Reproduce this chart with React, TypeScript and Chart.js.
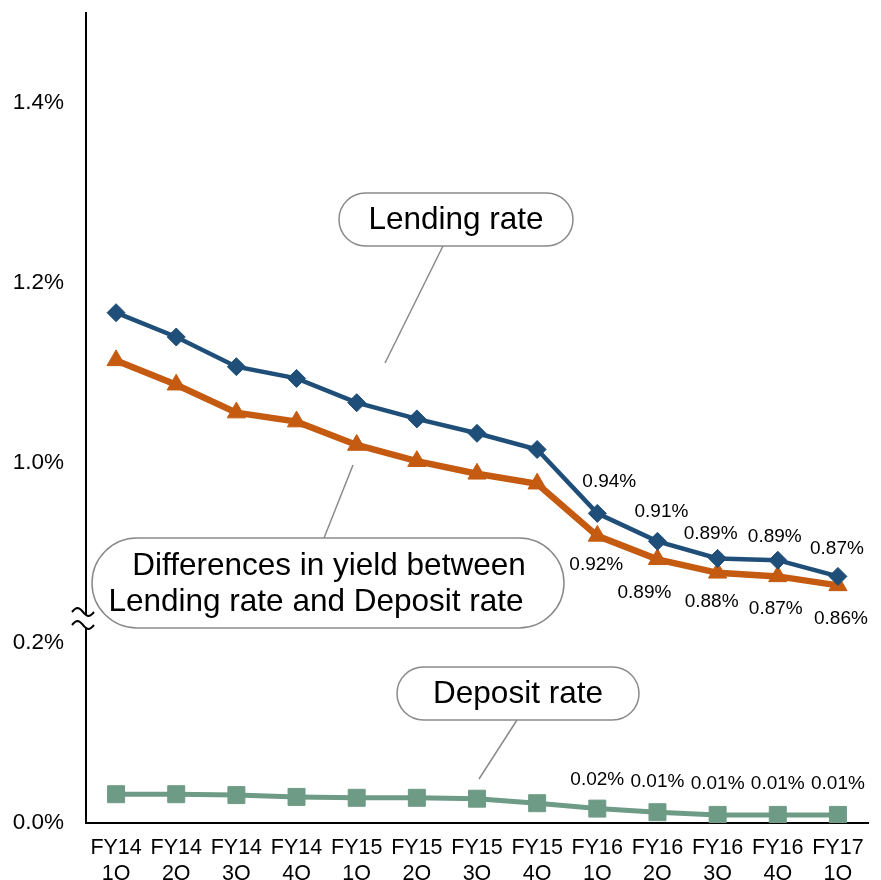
import React, { useEffect, useRef } from 'react';
import { Chart, registerables } from 'chart.js';

Chart.register(...registerables);

const FONT = '"Liberation Sans", Arial, Helvetica, sans-serif';

// Fiscal quarters on the category axis ("year quarter", split into two lines)
const periods = [
  'FY14 1Q', 'FY14 2Q', 'FY14 3Q', 'FY14 4Q',
  'FY15 1Q', 'FY15 2Q', 'FY15 3Q', 'FY15 4Q',
  'FY16 1Q', 'FY16 2Q', 'FY16 3Q', 'FY16 4Q',
  'FY17 1Q',
];

// Rates in percent
const lendingRate = [1.167, 1.14, 1.107, 1.094, 1.067, 1.049, 1.033, 1.015, 0.944, 0.913, 0.894, 0.892, 0.874];
const yieldDifference = [1.114, 1.087, 1.056, 1.046, 1.02, 1.002, 0.988, 0.977, 0.919, 0.893, 0.878, 0.874, 0.864];
const depositRate = [0.032, 0.032, 0.031, 0.029, 0.028, 0.028, 0.027, 0.022, 0.016, 0.012, 0.009, 0.009, 0.009];

// Tick values (percent) shown on the broken value axis
const yTicks = [0.0, 0.2, 1.0, 1.2, 1.4];

// Broken axis: values above BREAK_AT are drawn BREAK_GAP lower
const BREAK_AT = 0.5;
const BREAK_GAP = 0.6;
const AXIS_MAX = 0.9;
const LABEL_FROM = 8; // value labels from FY16 1Q onward

const toAxis = (v: number) => (v > BREAK_AT ? v - BREAK_GAP : v);
const fromAxis = (v: number) => (v > 0.2 + 1e-6 ? v + BREAK_GAP : v);

// Value label nudges [dx, dy] relative to each labelled point
const lendingLabelNudge = [[12, -32], [4, -30], [-7, -25], [-3, -23], [-1, -28]];
const differenceLabelNudge = [[-1, 29], [-13, 33], [-6, 29], [-2, 32], [3, 33]];
const depositLabelNudge = [[0, -29], [0, -30], [0, -31], [0, -31], [0, -31]];

type Callout = {
  lines: string[];
  lineX: number[];
  box: [number, number, number, number]; // left, top, right, bottom
  leader: [number, number, number, number];
};

const callouts: Callout[] = [
  { lines: ['Lending rate'], lineX: [456], box: [339, 193, 573, 246], leader: [443, 246, 385, 363] },
  {
    lines: ['Differences in yield between', 'Lending rate and Deposit rate'],
    lineX: [329, 316],
    box: [92, 538, 564, 628],
    leader: [324, 538, 353, 465],
  },
  { lines: ['Deposit rate'], lineX: [518], box: [397, 667, 639, 720], leader: [517, 720, 479, 779] },
];

const overlayPlugin = {
  id: 'overlay',
  afterDraw(chart: any) {
    const { ctx, chartArea } = chart;
    const yScale = chart.scales.y;
    ctx.save();

    // value labels
    ctx.font = `19px ${FONT}`;
    ctx.fillStyle = '#000';
    ctx.textAlign = 'center';
    ctx.textBaseline = 'middle';
    chart.data.datasets.forEach((ds: any, di: number) => {
      const meta = chart.getDatasetMeta(di);
      const src: number[] = ds.sourceValues;
      const nudge: number[][] = ds.labelNudge;
      for (let i = LABEL_FROM; i < src.length; i++) {
        const pt = meta.data[i];
        const [dx, dy] = nudge[i - LABEL_FROM];
        ctx.fillText(src[i].toFixed(2) + '%', pt.x + dx, pt.y + dy);
      }
    });

    // callouts
    callouts.forEach((c) => {
      const [l, t, r, b] = c.box;
      const h = b - t;
      ctx.strokeStyle = '#8a8a8a';
      ctx.lineWidth = 1.5;
      ctx.beginPath();
      ctx.moveTo(c.leader[0], c.leader[1]);
      ctx.lineTo(c.leader[2], c.leader[3]);
      ctx.stroke();
      ctx.beginPath();
      ctx.roundRect(l, t, r - l, h, h / 2);
      ctx.fillStyle = '#fff';
      ctx.fill();
      ctx.stroke();
      ctx.fillStyle = '#000';
      ctx.font = `31.5px ${FONT}`;
      ctx.textAlign = 'center';
      ctx.textBaseline = 'middle';
      const lh = 36;
      const y0 = (t + b) / 2 - ((c.lines.length - 1) * lh) / 2;
      c.lines.forEach((line, k) => ctx.fillText(line, c.lineX[k], y0 + k * lh + 1));
    });

    // axis break marker
    const yBreak = yScale.getPixelForValue(0.2);
    const x0 = chartArea.left - 14;
    const w = 22;
    const waveY = [yBreak - 31, yBreak - 18];
    const wave = (yc: number, t: number) => yc - 4 * Math.sin(2 * Math.PI * t);
    ctx.beginPath();
    for (let s = 0; s <= 20; s++) {
      const t = s / 20;
      const x = x0 + w * t;
      if (s === 0) ctx.moveTo(x, wave(waveY[0], t));
      else ctx.lineTo(x, wave(waveY[0], t));
    }
    for (let s = 20; s >= 0; s--) {
      const t = s / 20;
      ctx.lineTo(x0 + w * t, wave(waveY[1], t));
    }
    ctx.closePath();
    ctx.fillStyle = '#fff';
    ctx.fill();
    ctx.strokeStyle = '#000';
    ctx.lineWidth = 2;
    waveY.forEach((yc) => {
      ctx.beginPath();
      for (let s = 0; s <= 20; s++) {
        const t = s / 20;
        const x = x0 + w * t;
        if (s === 0) ctx.moveTo(x, wave(yc, t));
        else ctx.lineTo(x, wave(yc, t));
      }
      ctx.stroke();
    });

    ctx.restore();
  },
};

export default function App() {
  const canvasRef = useRef<HTMLCanvasElement | null>(null);

  useEffect(() => {
    const canvas = canvasRef.current;
    if (!canvas) return;
    const chart = new Chart(canvas, {
      type: 'line',
      data: {
        labels: periods.map((p) => p.split(' ')),
        datasets: [
          {
            label: 'Lending rate',
            data: lendingRate.map(toAxis),
            sourceValues: lendingRate,
            labelNudge: lendingLabelNudge,
            borderColor: '#1F4E79',
            backgroundColor: '#1F4E79',
            borderWidth: 4.5,
            pointStyle: 'rectRot',
            pointRadius: 9,
            pointBorderWidth: 1,
            tension: 0,
          } as any,
          {
            label: 'Differences in yield between Lending rate and Deposit rate',
            data: yieldDifference.map(toAxis),
            sourceValues: yieldDifference,
            labelNudge: differenceLabelNudge,
            borderColor: '#C55A11',
            backgroundColor: '#C55A11',
            borderWidth: 6.5,
            pointStyle: 'triangle',
            pointRadius: 10.5,
            pointBorderWidth: 1,
            tension: 0,
          } as any,
          {
            label: 'Deposit rate',
            data: depositRate.map(toAxis),
            sourceValues: depositRate,
            labelNudge: depositLabelNudge,
            borderColor: '#6E9B85',
            backgroundColor: '#6E9B85',
            borderWidth: 5,
            pointStyle: 'rect',
            pointRadius: 12,
            pointBorderWidth: 1,
            tension: 0,
          } as any,
        ],
      },
      options: {
        animation: false,
        responsive: false,
        devicePixelRatio: 1,
        layout: { padding: { top: 12, right: 2, left: 0, bottom: 0 } },
        plugins: {
          legend: { display: false },
          tooltip: { enabled: false },
        },
        scales: {
          x: {
            type: 'category',
            offset: true,
            grid: { display: false, drawTicks: false },
            border: { display: true, color: '#000', width: 2 },
            ticks: {
              color: '#000',
              font: { family: FONT, size: 21.5 },
              padding: 12,
              maxRotation: 0,
              autoSkip: false,
            },
            afterFit: (s: any) => {
              s.height = 57;
              s.paddingLeft = 0;
              s.paddingRight = 0;
            },
          },
          y: {
            min: 0,
            max: AXIS_MAX,
            grid: { display: false, drawTicks: false },
            border: { display: true, color: '#000', width: 2 },
            afterBuildTicks: (s: any) => {
              s.ticks = yTicks.map((v) => ({ value: toAxis(v) }));
            },
            ticks: {
              color: '#000',
              font: { family: FONT, size: 22.5 },
              padding: 22,
              callback: (v: any) => fromAxis(Number(v)).toFixed(1) + '%',
            },
            afterFit: (s: any) => {
              s.width = 86;
              s.paddingTop = 0;
              s.paddingBottom = 0;
            },
          },
        },
      },
      plugins: [overlayPlugin],
    } as any);
    return () => chart.destroy();
  }, []);

  return (
    <div style={{ position: 'fixed', left: 0, top: 0, width: 881, height: 880, background: '#fff' }}>
      <canvas ref={canvasRef} width={881} height={880} style={{ display: 'block' }} />
    </div>
  );
}
